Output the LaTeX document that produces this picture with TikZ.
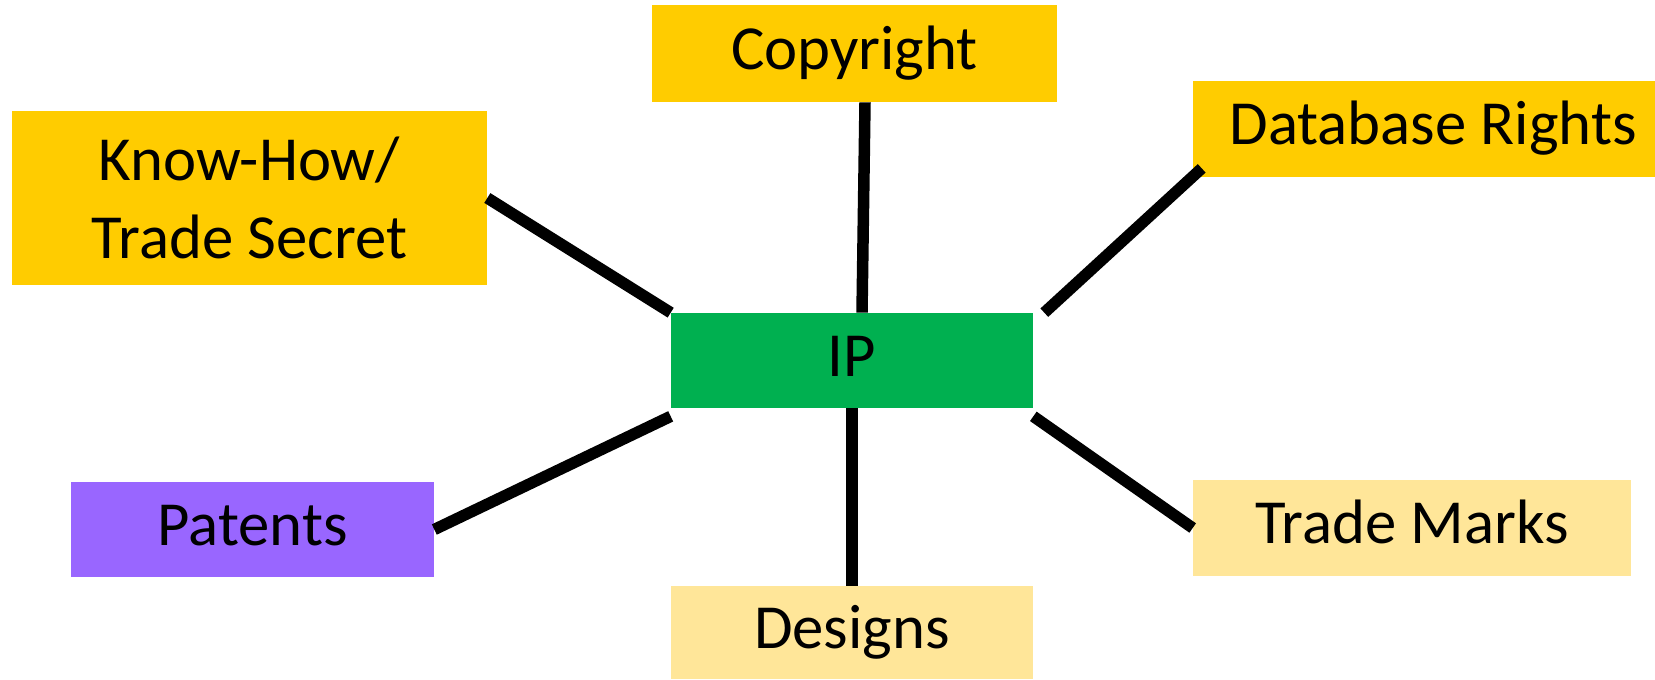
\documentclass[tikz,border=0pt]{standalone}
\usepackage{fontspec}
\setmainfont{Carlito}
\usepackage{tikz}
\usetikzlibrary{positioning}
\definecolor{gold}{HTML}{FFCC00}
\definecolor{palegold}{HTML}{FFE699}
\definecolor{ipgreen}{HTML}{00B050}
\definecolor{violet}{HTML}{9966FF}
\tikzset{basic/.style={draw=none,inner sep=0pt,align=center,
                       font=\fontsize{35.7pt}{44pt}\selectfont}}
\tikzset{oneline/.style={basic,text height=26.8pt,text depth=8.9pt}}
\tikzset{topic/.style={oneline,fill=gold}}
\tikzset{minor/.style={oneline,fill=palegold}}
\tikzset{link/.style={line width=0.23cm,black}}

\begin{document}
\begin{tikzpicture}[x=0.02cm,y=-0.02cm]

    \useasboundingbox (0,0) rectangle (1655,679);

    \node[oneline,fill=ipgreen,minimum width=7.24cm,minimum height=1.9cm] (ip) at (852,360.5) {IP};

    \node[topic,minimum width=8.1cm,minimum height=1.94cm] (copyright) at (854.5,53.5) {Copyright};
    \node[basic,fill=gold,minimum width=9.5cm,minimum height=3.48cm] (knowhow) at (249.5,198) {Know-How/\\Trade Secret};
    \node[topic,minimum width=9.6cm,minimum height=1.92cm] (database) at (1433,129) {Database Rights};
    \node[oneline,fill=violet,minimum width=7.26cm,minimum height=1.9cm] (patents) at (252.5,529.5) {Patents};
    \node[minor,minimum width=7.24cm,minimum height=1.86cm] (designs) at (852,632.5) {Designs};
    \node[minor,minimum width=8.76cm,minimum height=1.92cm] (trademarks) at (1412,528) {Trade Marks};

    \draw[link] ([xshift=0.21cm]copyright.south) -- ([xshift=0.2cm]ip.north);
    \draw[link] (knowhow.east) -- (ip.north west);
    \draw[link] ([xshift=0.18cm,yshift=0.18cm]database.south west) -- ([xshift=0.22cm]ip.north east);
    \draw[link] (patents.east) -- ([yshift=-0.16cm]ip.south west);
    \draw[link] (ip.south) -- (designs.north);
    \draw[link] ([yshift=-0.16cm]ip.south east) -- (trademarks.west);

\end{tikzpicture}
\end{document}
